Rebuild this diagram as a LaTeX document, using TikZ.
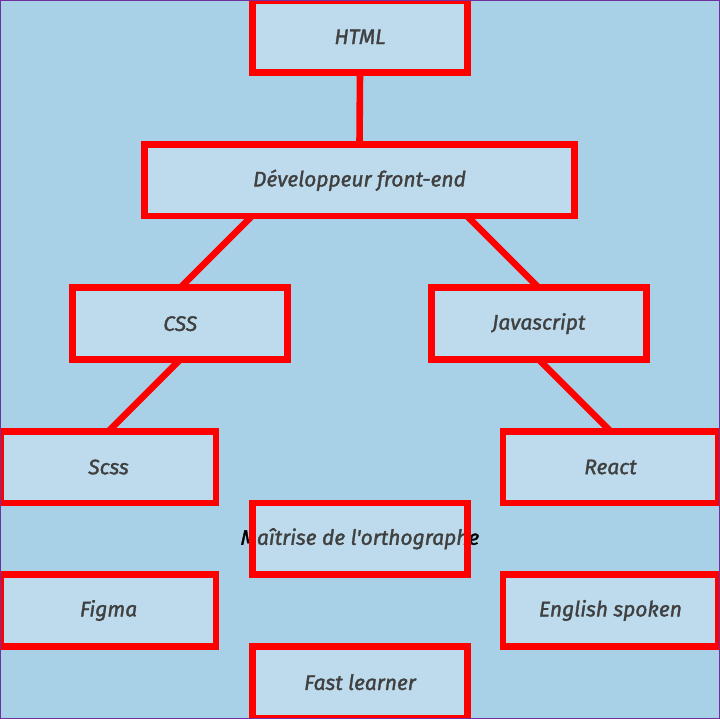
\documentclass[tikz,border=0pt]{standalone}
\usepackage{fontspec}
\newfontfamily\textecomp{Fira Sans}[UprightFont=* Italic, FakeBold=1.6]
\usetikzlibrary{calc}
\definecolor{fondbleu}{RGB}{168,208,230}
\definecolor{bordviolet}{RGB}{112,48,160}

\begin{document}
\begin{tikzpicture}[x=1pt,y=-1pt]
\tikzset{competence/.style={inner sep=0pt, outer sep=0pt, minimum width=215pt, minimum height=71.7pt, font=\fontsize{21}{25}\textecomp, text=black}}
\tikzset{cadre/.style={draw=red, line width=6.6pt, fill=white, fill opacity=0.25, draw opacity=1}}
\tikzset{lien/.style={draw=red, line width=6.6pt}}
\fill[fondbleu] (0,0) rectangle (720,719);
\useasboundingbox (0,0) rectangle (720,719);
\node[competence] (html) at (360,36.85) {HTML};
\node[competence, minimum width=430.2pt] (dev) at (359.5,180.25) {Développeur front-end};
\node[competence] (css) at (180.25,323.65) {CSS};
\node[competence] (js) at (538.75,323.65) {Javascript};
\node[competence] (scss) at (108.55,467.05) {Scss};
\node[competence] (react) at (610.45,467.05) {React};
\node[competence] (ortho) at (360,538.75) {\makebox[0pt]{Maîtrise de l'orthographe}};
\node[competence] (figma) at (108.55,610.45) {Figma};
\node[competence] (english) at (610.45,610.45) {English spoken};
\node[competence] (fast) at (360,682.15) {Fast learner};
\draw[lien] (html.south) -- (dev.north);
\draw[lien] ($(dev.south west)!0.25!(dev.south east)$) -- (css.north);
\draw[lien] ($(dev.south west)!0.75!(dev.south east)$) -- (js.north);
\draw[lien] (css.south) -- (scss.north);
\draw[lien] (js.south) -- (react.north);
\foreach \n in {html,dev,css,js,scss,react,ortho,figma,english,fast}
  \draw[cadre] (\n.north west) rectangle (\n.south east);
\draw[bordviolet, line width=1pt] (0.5,0.5) rectangle (719.5,718.5);
\end{tikzpicture}
\end{document}
